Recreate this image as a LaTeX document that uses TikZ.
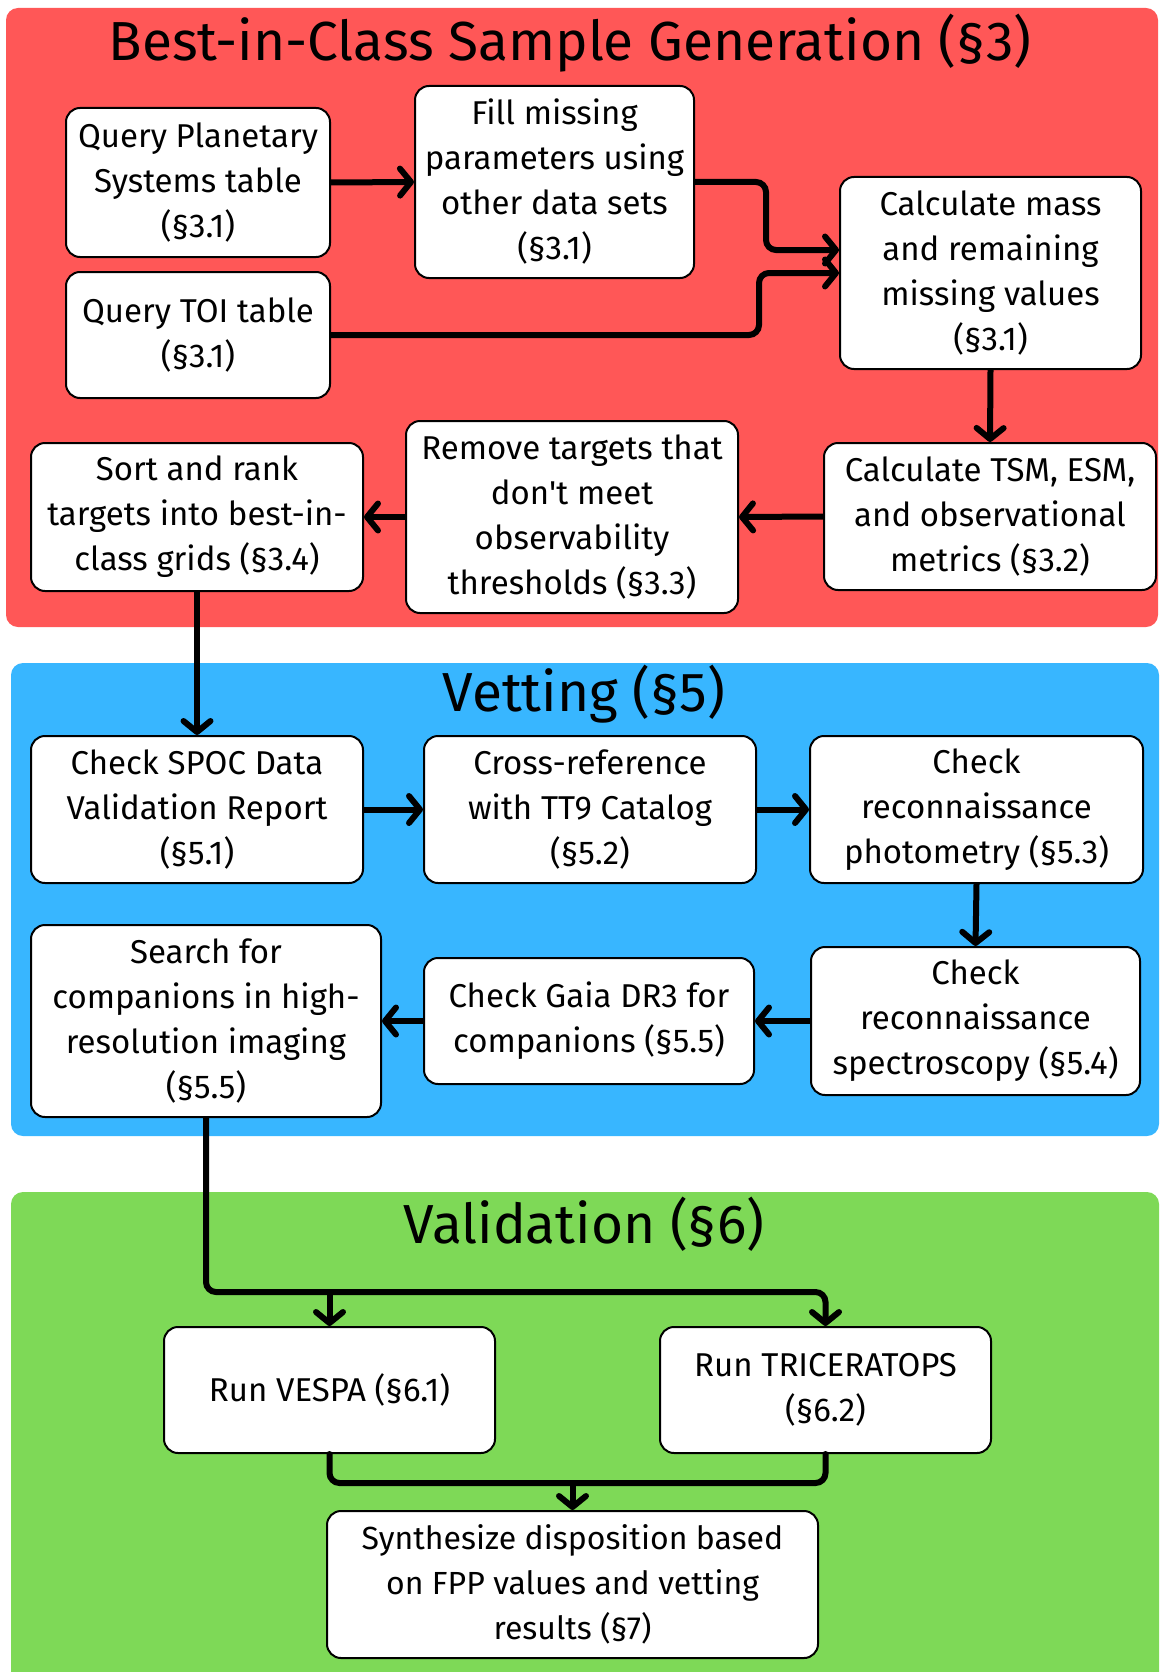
\documentclass[tikz,border=0pt]{standalone}
\usepackage{fontspec}
\setmainfont{Fira Sans}
\usetikzlibrary{arrows.meta}
\definecolor{panelred}{HTML}{FF5757}
\definecolor{panelblue}{HTML}{38B6FF}
\definecolor{panelgreen}{HTML}{7ED957}
\newcommand{\straightapos}{\XeTeXglyph\XeTeXcharglyph"0027\relax}
\begin{document}
\begin{tikzpicture}[x=1pt,y=-1pt,
  box/.style={draw=black, line width=2pt, fill=white, rounded corners=14pt, align=center, inner sep=0pt, font=\fontsize{33}{45}\selectfont},
  conn/.style={line width=6pt, rounded corners=10pt, -{Straight Barb[length=11pt,width=27pt,round]}},
  plainline/.style={line width=6pt, rounded corners=10pt, line cap=round},
  paneltitle/.style={anchor=base, font=\fontsize{55}{58}\selectfont, inner sep=0pt},
  panel/.style={rounded corners=12pt}]
\useasboundingbox (0,0) rectangle (1161,1672);
% panels
\fill[panel, panelred] (6,8) rectangle (1158,627);
\fill[panel, panelblue] (11,663) rectangle (1159,1136);
\fill[panel, panelgreen] (11,1192) rectangle (1159,1700);
% titles
\node[paneltitle] (t1) at (570,61) {Best-in-Class Sample Generation (§3)};
\node[paneltitle] (t2) at (584,711) {Vetting (§5)};
\node[paneltitle] (t3) at (584,1243) {Validation (§6)};
% red nodes
\node[box, minimum width=264pt, minimum height=149pt] (qps) at (198,182.5) {Query Planetary\\Systems table\\(§3.1)};
\node[box, minimum width=279pt, minimum height=192pt] (fill) at (554.5,182) {Fill missing\\parameters using\\other data sets\\(§3.1)};
\node[box, minimum width=264pt, minimum height=126pt] (toi) at (198,335) {Query TOI table\\(§3.1)};
\node[box, minimum width=301pt, minimum height=192pt] (mass) at (990.5,273) {Calculate mass\\and remaining\\missing values\\(§3.1)};
\node[box, minimum width=332pt, minimum height=147pt] (tsm) at (990,516.5) {Calculate TSM, ESM,\\and observational\\metrics (§3.2)};
\node[box, minimum width=332pt, minimum height=192pt] (remove) at (572,517) {Remove targets that\\don\straightapos t meet\\observability\\thresholds (§3.3)};
\node[box, minimum width=332pt, minimum height=148pt] (sort) at (197,517) {Sort and rank\\targets into best-in-\\class grids (§3.4)};
% blue nodes
\node[box, minimum width=332pt, minimum height=147pt] (spoc) at (197,809.5) {Check SPOC Data\\Validation Report\\(§5.1)};
\node[box, minimum width=332pt, minimum height=147pt] (cross) at (590,809.5) {Cross-reference\\with TT9 Catalog\\(§5.2)};
\node[box, minimum width=333pt, minimum height=147pt] (phot) at (976.5,809.5) {Check\\reconnaissance\\photometry (§5.3)};
\node[box, minimum width=329pt, minimum height=148pt] (spec) at (975.5,1021) {Check\\reconnaissance\\spectroscopy (§5.4)};
\node[box, minimum width=330pt, minimum height=126pt] (gaia) at (589,1021) {Check Gaia DR3 for\\companions (§5.5)};
\node[box, minimum width=350pt, minimum height=192pt] (search) at (206,1021) {Search for\\companions in high-\\resolution imaging\\(§5.5)};
% green nodes
\node[box, minimum width=331pt, minimum height=126pt] (vespa) at (329.5,1390) {Run VESPA (§6.1)};
\node[box, minimum width=331pt, minimum height=126pt] (tric) at (825.5,1390) {Run TRICERATOPS\\(§6.2)};
\node[box, minimum width=491pt, minimum height=147pt, font=\fontsize{32}{45}\selectfont] (synth) at (572.5,1584.5) {Synthesize disposition based\\on FPP values and vetting\\results (§7)};
% connectors
\draw[conn] (qps.east) -- (fill.west);
\draw[conn] (fill.east) -- (766,182) |- ([yshift=23pt]mass.west);
\draw[conn] (toi.east) -- (759,335) |- (mass.west);
\draw[conn] (mass.south) -- (tsm.north);
\draw[conn] (tsm.west) -- (remove.east);
\draw[conn] (remove.west) -- (sort.east);
\draw[conn] (sort.south) -- (spoc.north);
\draw[conn] (spoc.east) -- (cross.west);
\draw[conn] (cross.east) -- (phot.west);
\draw[conn] (phot.south) -- (spec.north);
\draw[conn] (spec.west) -- (gaia.east);
\draw[conn] (gaia.west) -- (search.east);
\draw[conn] (search.south) |- ([yshift=34pt]tric.north) -- (tric.north);
\draw[conn] ([yshift=34pt]vespa.north) -- (vespa.north);
\draw[plainline] (vespa.south) |- ([yshift=-29pt]tric.south) -- (tric.south);
\draw[conn] ([yshift=29pt]synth.north) -- (synth.north);
\end{tikzpicture}
\end{document}
